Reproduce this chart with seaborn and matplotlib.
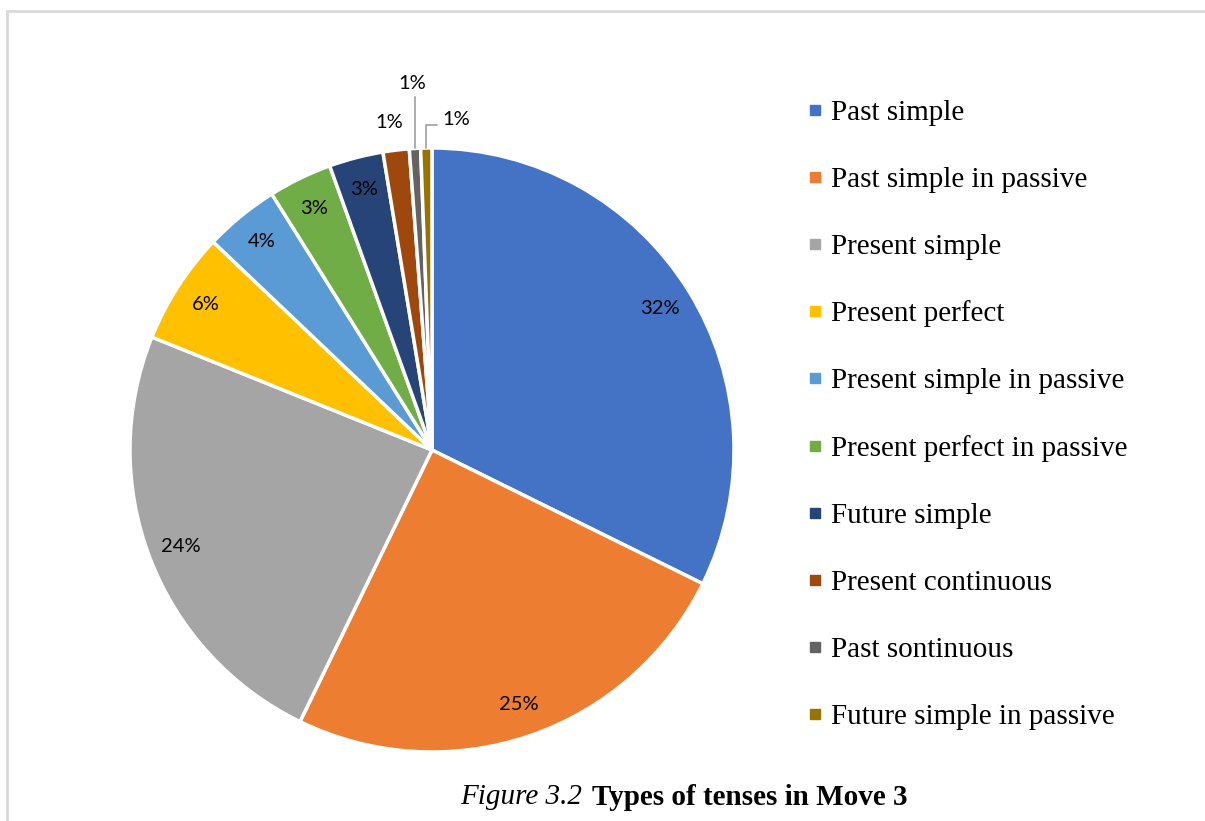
import numpy as np
import matplotlib.pyplot as plt
from matplotlib.lines import Line2D
import seaborn as sns

# tense shares in Move 3 (percent)
tenses = ['Past simple', 'Past simple in passive', 'Present simple',
          'Present perfect', 'Present simple in passive',
          'Present perfect in passive', 'Future simple',
          'Present continuous', 'Past sontinuous', 'Future simple in passive']
shares = [32.3, 24.9, 23.9, 6.0, 4.0, 3.4, 2.9, 1.4, 0.6, 0.6]
colors = ['#4472C4', '#ED7D31', '#A5A5A5', '#FFC000', '#5B9BD5',
          '#70AD47', '#264478', '#9E480E', '#636363', '#997300']

sns.set_theme(style='white')
plt.rcParams['text.color'] = 'black'
palette = sns.color_palette(colors)
serif = ['Liberation Serif', 'DejaVu Serif']
sans = ['Lato', 'DejaVu Sans']

fig = plt.figure(figsize=(12.05, 8.21), dpi=100)
ax = fig.add_axes([130 / 1205, 69 / 821, 604 / 1205, 604 / 821])


def pct_label(p):
    return f'{p:.0f}%' if p >= 1.5 else ''


wedges, texts, autotexts = ax.pie(
    shares, colors=palette, startangle=90, counterclock=False,
    autopct=pct_label, pctdistance=0.89,
    wedgeprops=dict(edgecolor='white', linewidth=2.5),
    textprops=dict(fontsize=14.5, family=sans, color='black'))
ax.set_xlim(-1, 1)
ax.set_ylim(-1, 1)
ax.set_aspect('equal')
for w in wedges:
    w.set_clip_on(False)


def mid_angle(w):
    return np.deg2rad((w.theta1 + w.theta2) / 2)


# small slices: labels outside, with leader lines where Excel drew them
ax.text(-0.142, 1.086, '1%', ha='center', va='center', fontsize=14.5,
        family=sans)

a8 = mid_angle(wedges[8])
x8 = np.cos(a8)
ax.plot([x8, x8], [np.sin(a8), 1.169], color='#A6A6A6', lw=1.3,
        clip_on=False)
ax.text(x8 - 0.01, 1.215, '1%', ha='center', va='center', fontsize=14.5,
        family=sans)

a9 = mid_angle(wedges[9])
x9 = np.cos(a9)
ax.plot([x9, x9, x9 + 0.035], [np.sin(a9), 1.076, 1.076],
        color='#A6A6A6', lw=1.3, clip_on=False)
ax.text(x9 + 0.099, 1.096, '1%', ha='center', va='center', fontsize=14.5,
        family=sans)

handles = [Line2D([], [], marker='s', linestyle='none', markersize=7,
                  markerfacecolor=c, markeredgecolor=c) for c in palette]
fig.legend(handles, tenses, loc='upper left',
           bbox_to_anchor=(792 / 1205, 1 - 85 / 821), frameon=False,
           prop=dict(family=serif, size=21), handlelength=0.6,
           handletextpad=0.25, labelspacing=1.39, borderpad=0,
           labelcolor='black')

fig.text(582 / 1205, 1 - 797 / 821, 'Figure 3.2', ha='right', va='center',
         fontsize=21, family=serif, style='italic')
fig.text(592 / 1205, 1 - 797 / 821, 'Types of tenses in Move 3',
         ha='left', va='center', fontsize=21, family=serif,
         weight='bold')

# thin frame of the figure box (top and left only)
fig.add_artist(Line2D([7 / 1205, 1], [1 - 11 / 821, 1 - 11 / 821],
                      color='#D9D9D9', lw=2, transform=fig.transFigure))
fig.add_artist(Line2D([7 / 1205, 7 / 1205], [0, 1 - 11 / 821],
                      color='#D9D9D9', lw=2, transform=fig.transFigure))

fig.savefig('out.png', dpi=100, facecolor='white')
